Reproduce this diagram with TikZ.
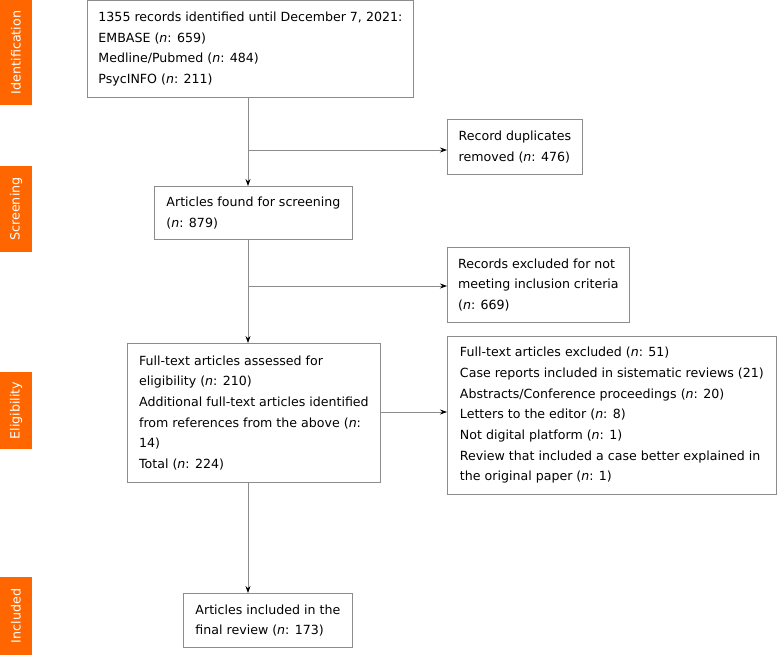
\documentclass[tikz,border=0pt]{standalone}
\usepackage{fontspec}
\setmainfont{DejaVu Sans}
\usetikzlibrary{arrows.meta}
\definecolor{phaseorange}{RGB}{255,102,0}
\definecolor{boxgray}{RGB}{140,140,140}

\begin{document}
\begin{tikzpicture}[x=1pt, y=-1pt,
	box/.style={draw=boxgray, line width=0.8pt, anchor=north west, align=left,
		inner xsep=0pt, inner ysep=0pt, font=\fontsize{12.6}{20.7}\selectfont},
	phase/.style={fill=phaseorange, text=white, rotate=90, minimum height=32pt,
		inner sep=0pt, font=\fontsize{12.7}{15}\selectfont},
	flow/.style={draw=boxgray, line width=0.8pt, -{Stealth[length=7pt, width=5pt, color=black]}}]

\useasboundingbox (0,0) rectangle (777,655);

\node [phase, minimum width=105pt] (idlab) at (16,52.5) {Identification};
\node [phase, minimum width=86pt] (scrlab) at (16,209) {Screening};
\node [phase, minimum width=77pt] (elilab) at (16,410.5) {Eligibility};
\node [phase, minimum width=78pt] (inclab) at (16,616) {Included};

\node [box, minimum width=326pt, minimum height=96.5pt] (records) at (87,0.5)
	{1355 records identified until December 7, 2021:\\EMBASE (\textit{n}: 659)\\
	Medline/Pubmed (\textit{n}: 484)\\PsycINFO (\textit{n}: 211)};
\node [box, minimum width=135pt, minimum height=55pt] (dupl) at (447,119)
	{Record duplicates\\removed (\textit{n}: 476)};
\node [box, minimum width=198pt, minimum height=53pt] (screen) at (154,186)
	{Articles found for screening\\(\textit{n}: 879)};
\node [box, minimum width=182pt, minimum height=75pt] (notmeet) at (447,247)
	{Records excluded for not\\meeting inclusion criteria\\(\textit{n}: 669)};
\node [box, minimum width=253pt, minimum height=139pt] (fulltext) at (127,343)
	{Full-text articles assessed for\\eligibility (\textit{n}: 210)\\
	Additional full-text articles identified\\from references from the above (\textit{n}:\\
	14)\\Total (\textit{n}: 224)};
\node [box, minimum width=329pt, minimum height=158pt] (excl) at (447,336)
	{Full-text articles excluded (\textit{n}: 51)\\
	Case reports included in sistematic reviews (21)\\
	Abstracts/Conference proceedings (\textit{n}: 20)\\
	Letters to the editor (\textit{n}: 8)\\Not digital platform (\textit{n}: 1)\\
	Review that included a case better explained in\\the original paper (\textit{n}: 1)};
\node [box, minimum width=169pt, minimum height=54pt] (final) at (183,593)
	{Articles included in the\\final review (\textit{n}: 173)};

\coordinate (trunk) at (248,0);
\coordinate (j1) at (248,150);
\coordinate (j2) at (248,286);
\coordinate (j3) at (0,412);

\draw [flow] (records.south -| trunk) -- (screen.north -| trunk);
\draw [flow] (j1) -- (dupl.west |- j1);
\draw [flow] (screen.south -| trunk) -- (fulltext.north -| trunk);
\draw [flow] (j2) -- (notmeet.west |- j2);
\draw [flow] (fulltext.east |- j3) -- (excl.west |- j3);
\draw [flow] (fulltext.south -| trunk) -- (final.north -| trunk);

\end{tikzpicture}
\end{document}
